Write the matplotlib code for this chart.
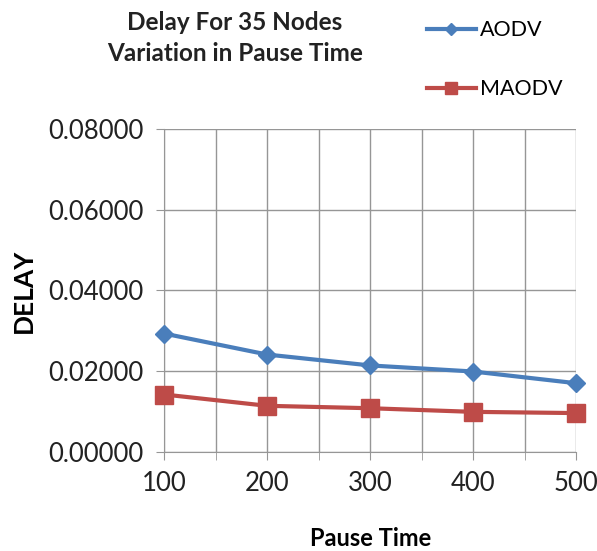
import matplotlib
matplotlib.use("Agg")
import matplotlib.pyplot as plt
from matplotlib.ticker import MultipleLocator, FormatStrFormatter

plt.rcParams['font.family'] = ['Lato', 'DejaVu Sans']

pause_time = [100, 200, 300, 400, 500]
aodv = [0.0293, 0.0241, 0.0214, 0.0199, 0.0170]
maodv = [0.0142, 0.0114, 0.0108, 0.0099, 0.0096]

fig = plt.figure(figsize=(5.97, 5.51), dpi=100)
ax = fig.add_axes([0.275, 0.18, 0.69, 0.586])

ax.plot(pause_time, aodv, color='#4A7EBB', lw=3, marker='D', ms=9, label='AODV', zorder=3)
ax.plot(pause_time, maodv, color='#BE4B48', lw=3, marker='s', ms=13, label='MAODV', zorder=3)

ax.set_xlim(100, 500)
ax.set_ylim(0, 0.08)
ax.xaxis.set_major_locator(MultipleLocator(100))
ax.xaxis.set_minor_locator(MultipleLocator(50))
ax.yaxis.set_major_locator(MultipleLocator(0.02))
ax.yaxis.set_major_formatter(FormatStrFormatter('%.5f'))
ax.grid(True, which='both', axis='x', color='#969696', lw=1)
ax.grid(True, which='major', axis='y', color='#969696', lw=1)
for s in ['top', 'right']:
    ax.spines[s].set_visible(False)
for s in ['left', 'bottom']:
    ax.spines[s].set_color('#969696')
ax.tick_params(axis='both', which='both', color='#969696', length=6, labelsize=18.5, labelcolor='#222222')
ax.tick_params(axis='y', pad=9)
ax.tick_params(axis='x', pad=8)
for l in ax.get_lines():
    l.set_clip_on(False)

ax.set_xlabel('Pause Time', fontsize=17, fontweight='bold', labelpad=22)
ax.set_ylabel('DELAY', fontsize=19, fontweight='bold', labelpad=9)

fig.text(0.393, 0.98, 'Delay For 35 Nodes\nVariation in Pause Time', ha='center', va='top',
         fontsize=17.5, fontweight='bold', linespacing=1.42, color='#222222')

fig.legend(loc='upper left', bbox_to_anchor=(0.682, 0.998), frameon=False, fontsize=15.5,
           labelspacing=1.8, handlelength=2.3, handletextpad=0.2, markerscale=0.7)

fig.savefig('out.png', dpi=100)
